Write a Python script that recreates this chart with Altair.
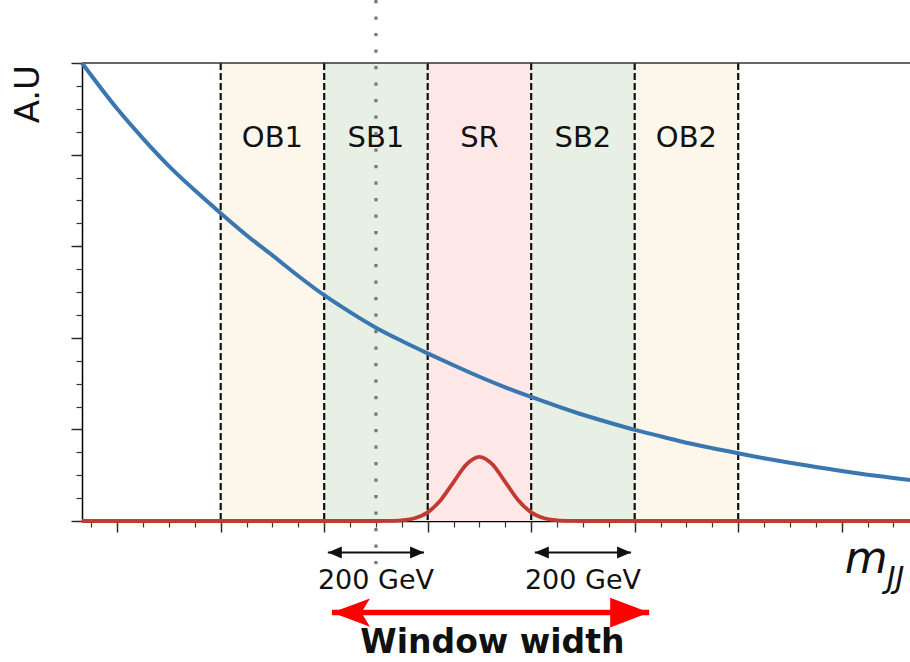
import altair as alt
import pandas as pd

# ---------------- data ----------------
X_DOMAIN = [2732, 4332]          # m_JJ range shown (GeV)
Y_DOMAIN = [0.0, 1.0]            # arbitrary units

# falling background (blue)
bkg_x = [2732, 2800, 2850, 2900, 2950, 3000, 3050, 3100, 3150, 3200, 3250,
         3300, 3350, 3400, 3450, 3500, 3550, 3600, 3650, 3700, 3750, 3800,
         3850, 3900, 3950, 4000, 4050, 4100, 4150, 4200, 4250, 4300, 4332]
bkg_y = [1.000, 0.900, 0.835, 0.775, 0.722, 0.672, 0.624, 0.580, 0.535, 0.493,
         0.456, 0.422, 0.393, 0.366, 0.340, 0.315, 0.292, 0.271, 0.251, 0.232,
         0.215, 0.199, 0.185, 0.171, 0.159, 0.148, 0.137, 0.127, 0.118, 0.109,
         0.101, 0.094, 0.0895]

# signal bump (red)
sig_x = [2732, 3300, 3325, 3350, 3375, 3400, 3425, 3450, 3475, 3500,
         3525, 3550, 3575, 3600, 3625, 3650, 3675, 3700, 4332]
sig_y = [0.0, 0.0, 0.0003, 0.0016, 0.0061, 0.0189, 0.0455, 0.0849, 0.1235, 0.140,
         0.1235, 0.0849, 0.0455, 0.0189, 0.0061, 0.0016, 0.0003, 0.0, 0.0]

# bands
band_lo = [3000, 3200, 3400, 3600, 3800]
band_hi = [3200, 3400, 3600, 3800, 4000]
band_lab = ["OB1", "SB1", "SR", "SB2", "OB2"]
band_col = ["#fdf6eb", "#e8f0e6", "#fde8e7", "#e8f0e6", "#fdf6eb"]
band_edges = [3000, 3200, 3400, 3600, 3800, 4000]
label_y = 0.8166

# ticks
x_major = [2800, 3000, 3200, 3400, 3600, 3800, 4000, 4200]
x_minor = list(range(2750, 4332, 50))
y_major = [0.0, 0.2, 0.4, 0.6, 0.8, 1.0]
y_minor = [round(0.05 * i, 2) for i in range(21)]

# annotations
window_center = 3300                    # dotted line
dot_y = [1.1376, -0.107]
gev_arrow_lo = [3207, 3607]
gev_arrow_hi = [3393, 3793]
gev_arrow_y = -0.0688
gev_text_x = [3300, 3700]
gev_text_y = -0.1485
win_lo, win_hi, win_y = 3215, 3828, -0.200
win_text_x, win_text_y = 3525, -0.2882
au_x, au_y = 2649, 0.9956
mjj_x, mjj_y = 4206, -0.1135
jj_x, jj_y = 4287, -0.146

# ---------------- chart ----------------
xs = alt.Scale(domain=X_DOMAIN, nice=False, zero=False)
ys = alt.Scale(domain=Y_DOMAIN, nice=False, zero=False)

def X(field="x", axis=None):
    return alt.X(f"{field}:Q", scale=xs, axis=axis, title=None)

def Y(field="y", axis=None):
    return alt.Y(f"{field}:Q", scale=ys, axis=axis, title=None)

ax_major_x = alt.Axis(orient="bottom", values=x_major, labels=False, tickSize=11,
                      tickWidth=1.4, tickColor="#222", domain=True,
                      domainColor="#000", domainWidth=1.5, grid=False, title=None)
ax_minor_x = alt.Axis(orient="bottom", values=x_minor, labels=False, tickSize=6,
                      tickWidth=1.2, tickColor="#333", domain=False, grid=False,
                      title=None)
ax_major_y = alt.Axis(orient="left", values=y_major, labels=False, tickSize=11,
                      tickWidth=1.4, tickColor="#222", domain=True,
                      domainColor="#000", domainWidth=1.5, grid=False, title=None)
ax_minor_y = alt.Axis(orient="left", values=y_minor, labels=False, tickSize=6,
                      tickWidth=1.2, tickColor="#333", domain=False, grid=False,
                      title=None)

bands_df = pd.DataFrame({"lo": band_lo, "hi": band_hi, "lab": band_lab,
                         "ly": [label_y] * len(band_lab)})
bands = alt.Chart(bands_df).mark_rect(opacity=1).encode(
    x=X("lo"), x2="hi",
    color=alt.Color("lab:N", scale=alt.Scale(domain=band_lab, range=band_col),
                    legend=None),
)
labels = alt.Chart(bands_df).transform_calculate(mid="(datum.lo + datum.hi) / 2").mark_text(
    font="DejaVu Sans", fontSize=29, color="#111", baseline="alphabetic", align="center"
).encode(x=X("mid"), y=Y("ly"), text="lab:N")

edges_df = pd.DataFrame({"x": band_edges})
dashes = alt.Chart(edges_df).mark_rule(
    color="#111", strokeWidth=2.2, strokeDash=[7, 3]
).encode(x=X("x"))

top_df = pd.DataFrame({"x": [X_DOMAIN[0]], "x2": [X_DOMAIN[1]], "y": [Y_DOMAIN[1]]})
top = alt.Chart(top_df).mark_rule(color="#333", strokeWidth=1.5).encode(
    x=X("x"), x2="x2", y=Y("y"))

bkg = alt.Chart(pd.DataFrame({"x": bkg_x, "y": bkg_y})).mark_line(
    color="#3a76b0", strokeWidth=4, interpolate="monotone"
).encode(x=X("x", ax_major_x), y=Y("y", ax_major_y))

sig = alt.Chart(pd.DataFrame({"x": sig_x, "y": sig_y})).mark_line(
    color="#c23a32", strokeWidth=3.8, interpolate="monotone"
).encode(x=X("x", ax_minor_x), y=Y("y", ax_minor_y))

dot_df = pd.DataFrame({"x": [window_center], "y": [dot_y[0]], "y2": [dot_y[1]]})
dotted = alt.Chart(dot_df).mark_rule(
    color="#777", strokeWidth=3.2, strokeDash=[3.3, 13.2]
).encode(x=X("x"), y=Y("y"), y2="y2")

# 200 GeV arrows
ga_df = pd.DataFrame({"lo": gev_arrow_lo, "hi": gev_arrow_hi,
                      "y": [gev_arrow_y] * 2})
ga_shaft = alt.Chart(ga_df).mark_rule(color="#111", strokeWidth=2).encode(
    x=X("lo"), x2="hi", y=Y("y"))
ga_left = alt.Chart(ga_df).mark_point(
    shape="M0,0 L2,-0.86 L2,0.86 Z", size=196, filled=True, opacity=1, color="#111"
).encode(x=X("lo"), y=Y("y"))
ga_right = alt.Chart(ga_df).mark_point(
    shape="M0,0 L-2,-0.86 L-2,0.86 Z", size=196, filled=True, opacity=1, color="#111"
).encode(x=X("hi"), y=Y("y"))
gt_df = pd.DataFrame({"x": gev_text_x, "y": [gev_text_y] * 2,
                      "t": ["200 GeV", "200 GeV"]})
ga_text = alt.Chart(gt_df).mark_text(
    font="DejaVu Sans", fontSize=27, color="#111", baseline="alphabetic"
).encode(x=X("x"), y=Y("y"), text="t:N")

# window width arrow
wa_df = pd.DataFrame({"lo": [win_lo], "hi": [win_hi], "y": [win_y]})
wa_shaft = alt.Chart(wa_df).mark_rule(color="#ff0000", strokeWidth=5.5).encode(
    x=X("lo"), x2="hi", y=Y("y"))
wa_left = alt.Chart(wa_df).mark_point(
    shape="M0,0 L2,-0.74 L1.55,0 L2,0.74 Z", size=1444, filled=True, opacity=1,
    color="#ff0000"
).encode(x=X("lo"), y=Y("y"))
wa_right = alt.Chart(wa_df).mark_point(
    shape="M0,0 L-2,-0.76 L-2,0.76 Z", size=1521, filled=True, opacity=1,
    color="#ff0000"
).encode(x=X("hi"), y=Y("y"))
wt_df = pd.DataFrame({"x": [win_text_x], "y": [win_text_y], "t": ["Window width"]})
wa_text = alt.Chart(wt_df).mark_text(
    font="DejaVu Sans", fontSize=33, fontWeight="bold", color="#111",
    baseline="alphabetic"
).encode(x=X("x"), y=Y("y"), text="t:N")

# axis titles as text
au_df = pd.DataFrame({"x": [au_x], "y": [au_y], "t": ["A.U"]})
au_text = alt.Chart(au_df).mark_text(
    font="DejaVu Sans", fontSize=34, color="#111", angle=270, align="right",
    baseline="alphabetic"
).encode(x=X("x"), y=Y("y"), text="t:N")
m_df = pd.DataFrame({"x": [mjj_x], "y": [mjj_y], "t": ["m"]})
m_text = alt.Chart(m_df).mark_text(
    font="DejaVu Sans", fontSize=44, fontStyle="italic", color="#111",
    align="left", baseline="alphabetic"
).encode(x=X("x"), y=Y("y"), text="t:N")
jj_df = pd.DataFrame({"x": [jj_x], "y": [jj_y], "t": ["JJ"]})
jj_text = alt.Chart(jj_df).mark_text(
    font="DejaVu Sans", fontSize=30, fontStyle="italic", color="#111",
    align="left", baseline="alphabetic"
).encode(x=X("x"), y=Y("y"), text="t:N")

chart = alt.layer(
    bands, dashes, labels, top, bkg, sig, dotted,
    ga_shaft, ga_left, ga_right, ga_text,
    wa_shaft, wa_left, wa_right, wa_text,
    au_text, m_text, jj_text,
).resolve_axis(x="independent", y="independent").properties(
    width=828, height=458,
    autosize=alt.AutoSizeParams(type="none"),
    padding={"left": 82, "top": 63, "right": 0, "bottom": 141},
    background="white",
).configure_view(strokeWidth=0)

chart.save("out.html", embed_options={"renderer": "svg", "actions": False})
